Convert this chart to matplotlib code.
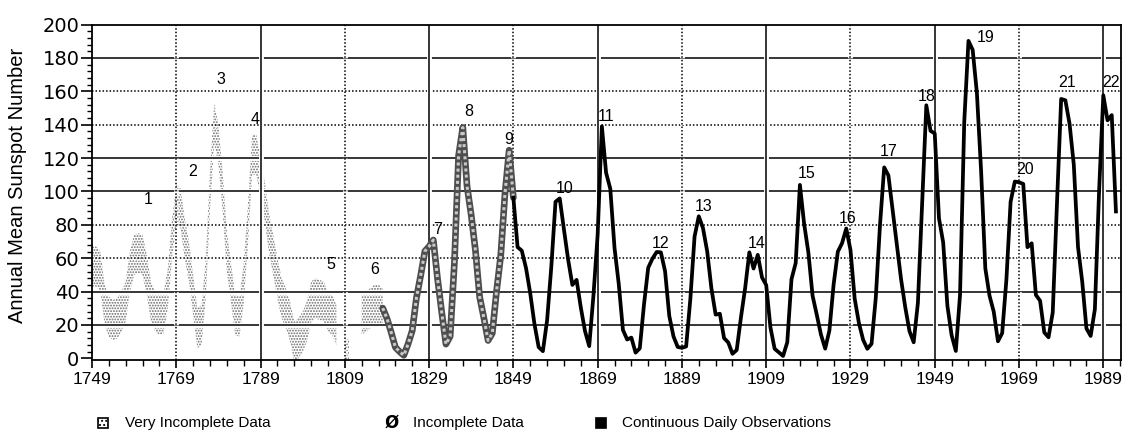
import numpy as np
import matplotlib
matplotlib.use("Agg")
import matplotlib.pyplot as plt
from matplotlib.patches import Rectangle
import matplotlib.patheffects as pe

# ---------------- data ----------------
# Very incomplete data (stippled band), annual values 1749-1818 (NaN = no data drawn)
early_years = list(range(1749, 1819))
early_values = [55, 55, 52, 32, 25, 23, 24, 28, 34, 52,
                62, 63, 62, 50, 34, 28, 26, 27, 42, 72,
                92, 90, 72, 58, 38, 18, 20, 48, 100, 141,
                128, 100, 64, 45, 26, 25, 45, 80, 122, 122,
                108, 94, 75, 62, 48, 36, 30, 22, 10, 12,
                16, 22, 34, 36, 35, 34, 28, 26, 20, np.nan,
                0, 0, np.nan, np.nan, 26, 28, 30, 32, 32, 30]

# Incomplete data (hatched line), 1818-1849
incomplete_years = list(range(1818, 1850))
incomplete_values = [30.1, 23.9, 15.6, 6.6, 4.0, 1.8, 8.5, 16.6, 36.3, 49.6,
                     64.2, 67.0, 70.9, 47.8, 27.5, 8.5, 13.2, 56.9, 121.5, 138.3,
                     103.2, 85.7, 64.6, 36.7, 24.2, 10.7, 15.0, 40.1, 61.5, 98.5,
                     124.7, 96.3]

# Continuous daily observations (black line), 1849-1992
daily_years = list(range(1849, 1993))
daily_values = [96.3, 66.6, 64.5, 54.1, 39.0, 20.6, 6.7, 4.3, 22.7, 54.8,
                93.8, 95.8, 77.2, 59.1, 44.0, 47.0, 30.5, 16.3, 7.3, 37.6,
                74.0, 139.0, 111.2, 101.6, 66.2, 44.7, 17.0, 11.3, 12.4, 3.4,
                6.0, 32.3, 54.3, 59.7, 63.7, 63.5, 52.2, 25.4, 13.1, 6.8,
                6.3, 7.1, 35.6, 73.0, 85.1, 78.0, 64.0, 41.8, 26.2, 26.7,
                12.1, 9.5, 2.7, 5.0, 24.4, 42.0, 63.5, 53.8, 62.0, 48.5,
                43.9, 18.6, 5.7, 3.6, 1.4, 9.6, 47.4, 57.1, 103.9, 80.6,
                63.6, 37.6, 26.1, 14.2, 5.8, 16.7, 44.3, 63.9, 69.0, 77.8,
                64.9, 35.7, 21.2, 11.1, 5.7, 8.7, 36.1, 79.7, 114.4, 109.6,
                88.8, 67.8, 47.5, 30.6, 16.3, 9.6, 33.2, 92.6, 151.6, 136.3,
                134.7, 83.9, 69.4, 31.5, 13.9, 4.4, 38.0, 141.7, 190.2, 184.8,
                159.0, 112.3, 53.9, 37.5, 27.9, 10.2, 15.1, 47.0, 93.8, 105.9,
                105.5, 104.5, 66.6, 68.9, 38.0, 34.5, 15.5, 12.6, 27.5, 92.5,
                155.4, 154.6, 140.4, 115.9, 66.6, 45.9, 17.9, 13.4, 29.4, 100.2,
                157.6, 142.6, 145.7, 88.0]

# Cycle number labels
cycle_numbers = [str(i) for i in range(1, 23)]
cycle_label_years = [1762.4, 1772.8, 1779.7, 1787.8, 1805.7, 1816.1, 1831.0, 1838.3,
                     1848.0, 1861.1, 1871.1, 1884.0, 1894.1, 1906.8, 1918.6, 1928.3,
                     1938.0, 1947.1, 1961.1, 1970.4, 1980.3, 1990.8]
cycle_label_values = [95, 112, 167, 143, 56, 53, 77, 148,
                      131, 102, 145, 69, 91, 69, 111, 84,
                      124, 157, 192, 113, 165, 165]

x_tick_years = [1749, 1769, 1789, 1809, 1829, 1849, 1869, 1889, 1909, 1929, 1949, 1969, 1989]
y_tick_values = [0, 20, 40, 60, 80, 100, 120, 140, 160, 180, 200]
legend_labels = ["Very Incomplete Data", "Incomplete Data", "Continuous Daily Observations"]

# ---------------- figure ----------------
plt.rcParams['hatch.linewidth'] = 0.9
W, H = 1134, 443
fig = plt.figure(figsize=(W / 100, H / 100), dpi=100)
ax = fig.add_axes([92 / W, 83 / H, 1029 / W, 335.5 / H])
ax.set_xlim(1749, 1993.2)
ax.set_ylim(-1, 200)

dotted = (0, (1.0, 1.3))
halo = [pe.Stroke(linewidth=3.5, foreground='white'), pe.Normal()]
solid_h = {20, 40, 100, 120, 180}
for yv in y_tick_values[1:-1]:
    ax.axhline(yv, color='black', lw=1.1, ls='-' if yv in solid_h else dotted,
               zorder=2, path_effects=halo)
for i, xv in enumerate(x_tick_years[1:]):
    ax.axvline(xv, color='black', lw=1.1, ls=dotted if i % 2 == 0 else '-',
               zorder=2, path_effects=halo)

# very incomplete data: stippled band
ev = np.array(early_values, dtype=float)
half = 12
ax.fill_between(early_years, ev - half, ev + half, facecolor='none',
                edgecolor='#6a6a6a', hatch='......', lw=0, zorder=1)

# incomplete data: hatched rope line
ax.plot(incomplete_years, incomplete_values, color='#4e4e4e', lw=4.8,
        solid_capstyle='round', zorder=3)
ax.plot(incomplete_years, incomplete_values, color='#c8c8c8', lw=2.2,
        ls=(0, (1.0, 1.0)), zorder=3.1)

# continuous daily observations
ax.plot(daily_years, daily_values, color='black', lw=2.7, zorder=4)

for n, yr, v in zip(cycle_numbers, cycle_label_years, cycle_label_values):
    ax.text(yr, v, n, ha='center', va='center', fontsize=11.5,
            family=['Liberation Sans', 'DejaVu Sans'], zorder=5)

for sp in ax.spines.values():
    sp.set_linewidth(1.3)
    sp.set_zorder(6)

ax.set_xticks(x_tick_years)
ax.set_xticklabels([str(y) for y in x_tick_years])
ax.set_xticks(np.arange(1749, 1994, 4), minor=True)
ax.set_yticks(y_tick_values)
ax.set_yticklabels([str(v) for v in y_tick_values])
ax.set_yticks(np.arange(0, 201, 4), minor=True)
ax.tick_params(axis='x', which='major', direction='out', length=6, width=1.2, pad=3)
ax.tick_params(axis='x', which='minor', direction='out', length=4, width=1.0)
ax.tick_params(axis='y', which='major', direction='out', length=8, width=1.2, pad=1)
ax.tick_params(axis='y', which='minor', direction='out', length=3.5, width=1.0)
for lbl in ax.get_xticklabels():
    lbl.set_family(['Liberation Sans'])
    lbl.set_fontsize(12.5)
for lbl in ax.get_yticklabels():
    lbl.set_family(['DejaVu Sans'])
    lbl.set_fontsize(14)

fig.text(18 / W, 1 - 185 / H, 'Annual Mean Sunspot Number', rotation=90,
         ha='center', va='center', fontsize=14.5, family=['Liberation Sans'])

# legend
ly = 1 - 423 / H
leg_font = ['Liberation Sans']
fig.add_artist(Rectangle((98 / W, 1 - 428 / H), 10 / W, 10 / H, transform=fig.transFigure,
                         facecolor='white', edgecolor='black', hatch='....', lw=1.2))
fig.text(125 / W, ly, legend_labels[0], ha='left', va='center', fontsize=11, family=leg_font)
fig.text(392 / W, ly, 'Ø', ha='center', va='center', fontsize=12, weight='bold',
         family=['DejaVu Sans'])
fig.text(413 / W, ly, legend_labels[1], ha='left', va='center', fontsize=11, family=leg_font)
fig.add_artist(Rectangle((595 / W, 1 - 428 / H), 11 / W, 11 / H, transform=fig.transFigure,
                         facecolor='black', edgecolor='black', lw=0.5))
fig.text(622 / W, ly, legend_labels[2], ha='left', va='center', fontsize=11, family=leg_font)

fig.savefig('out.png', dpi=100)
